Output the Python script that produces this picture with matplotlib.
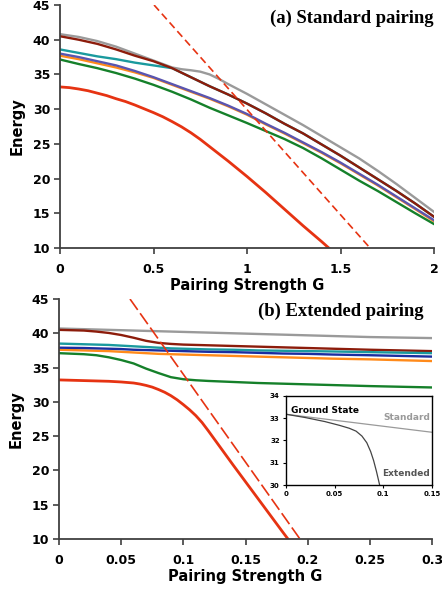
import numpy as np
import matplotlib.pyplot as plt

# data
g_top = [0, 0.1, 0.2, 0.3, 0.4, 0.5, 0.6, 0.7, 0.8, 0.9, 1.0,
         1.1, 1.2, 1.3, 1.4, 1.5, 1.6, 1.7, 1.8, 1.9, 2.0]
brown_top = [40.5, 40.0, 39.4, 38.6, 37.7, 36.9, 35.9, 34.6, 33.3, 32.1, 30.8,
             29.4, 27.9, 26.5, 24.9, 23.3, 21.6, 19.9, 18.2, 16.4, 14.5]
teal_top = [38.6, 38.1, 37.6, 37.2, 36.7, 36.3, 35.9, 34.6, 33.3, 32.1, 30.8,
            29.4, 27.9, 26.5, 24.9, 23.3, 21.6, 19.9, 18.2, 16.4, 14.5]
blue_top = [38.0, 37.5, 36.9, 36.3, 35.5, 34.6, 33.6, 32.6, 31.6, 30.5, 29.3,
            27.9, 26.6, 25.2, 23.8, 22.3, 20.7, 19.1, 17.4, 15.7, 14.0]
orange_top = [37.7, 37.2, 36.6, 36.0, 35.3, 34.5, 33.5, 32.5, 31.5, 30.4, 29.2,
              27.8, 26.5, 25.1, 23.7, 22.2, 20.6, 19.0, 17.3, 15.6, 13.85]
green_top = [37.15, 36.5, 35.9, 35.2, 34.4, 33.5, 32.5, 31.4, 30.2, 29.1, 28.0,
             26.85, 25.7, 24.4, 22.9, 21.3, 19.7, 18.2, 16.6, 15.0, 13.45]
g_gray_top = [0, 0.1, 0.2, 0.3, 0.4, 0.5, 0.55, 0.6, 0.65, 0.7, 0.75, 0.8, 0.85,
              0.9, 0.95, 1.0, 1.1, 1.2, 1.3, 1.4, 1.5, 1.6, 1.7, 1.8, 1.9, 2.0]
gray_top = [40.8, 40.4, 39.8, 39.0, 38.0, 37.0, 36.5, 36.0, 35.75, 35.6, 35.4, 35.0, 34.35,
            33.6, 32.9, 32.2, 30.7, 29.2, 27.7, 26.1, 24.5, 22.9, 21.1, 19.2, 17.2, 15.2]
g_red_top = [0, 0.05, 0.1, 0.15, 0.2, 0.25, 0.3, 0.35, 0.4, 0.45, 0.5, 0.55, 0.6,
             0.65, 0.7, 0.75, 0.8, 0.85, 0.9, 0.95, 1.0, 1.1, 1.2, 1.3, 1.4, 1.5]
red_top = [33.2, 33.1, 32.9, 32.65, 32.3, 31.95, 31.5, 31.1, 30.6, 30.05, 29.5, 28.9, 28.2,
           27.45, 26.6, 25.65, 24.6, 23.55, 22.5, 21.4, 20.3, 18.0, 15.6, 13.2, 10.9, 8.5]
g_dash_top = [0.503, 1.658]
dash_top = [45.0, 10.0]

g_bot = [0, 0.02, 0.03, 0.04, 0.05, 0.06, 0.07, 0.08, 0.09, 0.10, 0.11,
         0.12, 0.14, 0.16, 0.18, 0.20, 0.22, 0.25, 0.30]
gray_bot = [40.7, 40.6, 40.55, 40.5, 40.45, 40.4, 40.35, 40.3, 40.25, 40.2, 40.15,
            40.1, 40.0, 39.9, 39.8, 39.7, 39.6, 39.45, 39.3]
brown_bot = [40.5, 40.4, 40.25, 40.05, 39.75, 39.35, 38.9, 38.6, 38.45, 38.35, 38.3,
             38.25, 38.15, 38.05, 37.95, 37.85, 37.75, 37.6, 37.4]
teal_bot = [38.5, 38.4, 38.35, 38.3, 38.2, 38.1, 38.0, 37.9, 37.8, 37.75, 37.7,
            37.65, 37.6, 37.5, 37.45, 37.4, 37.35, 37.25, 37.1]
blue_bot = [37.9, 37.85, 37.8, 37.75, 37.7, 37.6, 37.55, 37.5, 37.45, 37.4, 37.35,
            37.3, 37.25, 37.15, 37.05, 37.0, 36.9, 36.8, 36.6]
orange_bot = [37.6, 37.5, 37.45, 37.4, 37.3, 37.2, 37.1, 37.0, 36.95, 36.9, 36.85,
              36.8, 36.7, 36.6, 36.5, 36.4, 36.3, 36.2, 35.95]
green_bot = [37.1, 36.95, 36.8, 36.5, 36.1, 35.6, 34.85, 34.2, 33.6, 33.3, 33.15,
             33.05, 32.9, 32.75, 32.65, 32.55, 32.45, 32.3, 32.1]
g_red_bot = [0, 0.02, 0.03, 0.04, 0.05, 0.06, 0.065, 0.07, 0.075, 0.08, 0.085, 0.09,
             0.095, 0.10, 0.105, 0.11, 0.115, 0.12, 0.13, 0.14, 0.16, 0.18, 0.20]
red_bot = [33.2, 33.1, 33.05, 33.0, 32.9, 32.75, 32.6, 32.4, 32.15, 31.8, 31.4, 30.9,
           30.3, 29.6, 28.85, 28.0, 27.0, 25.8, 23.3, 20.8, 15.9, 11.0, 6.2]
g_dash_bot = [0.0571, 0.1938]
dash_bot = [45.0, 10.0]

# inset: ground state, standard vs extended
g_std = [0, 0.15]
e_std = [33.18, 32.37]
g_ext = [0, 0.02, 0.04, 0.055, 0.065, 0.072, 0.078, 0.083, 0.087, 0.09, 0.093, 0.0962]
e_ext = [33.18, 33.03, 32.85, 32.68, 32.55, 32.42, 32.2, 31.9, 31.5, 31.1, 30.6, 30.0]

RED = '#E63312'
GRAY = '#9A9A9A'
BROWN = '#8C1C0B'
TEAL = '#1A9A9E'
ORANGE = '#FF8A1A'
GREEN = '#15802A'
SPINE = '#404040'

plt.rcParams['font.family'] = 'DejaVu Sans'
plt.rcParams['font.weight'] = 'bold'

fig = plt.figure(figsize=(4.42, 5.93), dpi=100)
W, H = 442.0, 593.0


def style(ax, xt, xl):
    for s in ['top', 'right']:
        ax.spines[s].set_visible(False)
    for s in ['left', 'bottom']:
        ax.spines[s].set_color(SPINE)
        ax.spines[s].set_linewidth(1.3)
    ax.set_xticks(xt)
    ax.set_xticklabels(xl, fontsize=9, fontweight='bold')
    ax.set_yticks([10, 15, 20, 25, 30, 35, 40, 45])
    ax.set_yticklabels(['10', '15', '20', '25', '30', '35', '40', '45'],
                       fontsize=9, fontweight='bold')
    ax.tick_params(axis='x', direction='out', length=4, width=1.2, color=SPINE, pad=7)
    ax.tick_params(axis='y', direction='out', length=4, width=1.2, color=SPINE, pad=3)
    ax.set_ylim(10, 45)
    ax.set_ylabel('Energy', fontsize=10.5, fontweight='bold', labelpad=6)
    ax.set_xlabel('Pairing Strength G', fontsize=10.5, fontweight='bold', labelpad=1)


# (a) standard pairing
ax1 = fig.add_axes([60 / W, 1 - 248 / H, 374 / W, 243 / H])
ax1.plot(g_top, teal_top, color=TEAL, lw=1.7)
ax1.plot(g_gray_top, gray_top, color=GRAY, lw=1.7)
ax1.plot(g_top, brown_top, color=BROWN, lw=1.7)
ax1.plot(g_top, orange_top, color=ORANGE, lw=1.7)
ax1.plot(g_top, blue_top, color='#5A55B0', lw=1.7)
ax1.plot(g_top, green_top, color=GREEN, lw=1.7)
ax1.plot(g_red_top, red_top, color=RED, lw=2.0)
ax1.plot(g_dash_top, dash_top, color=RED, lw=1.2, dashes=(4.5, 2.5))
ax1.set_xlim(0, 2)
style(ax1, [0, 0.5, 1, 1.5, 2], ['0', '0.5', '1', '1.5', '2'])
fig.text(434 / W, 1 - 22.7 / H, '(a) Standard pairing', ha='right', va='baseline',
         family='Liberation Serif', fontweight='bold', fontsize=13.4)

# (b) extended pairing
ax2 = fig.add_axes([59 / W, 1 - 539 / H, 373 / W, 240 / H])
ax2.plot(g_bot, gray_bot, color=GRAY, lw=1.7)
ax2.plot(g_bot, brown_bot, color=BROWN, lw=1.7)
ax2.plot(g_bot, teal_bot, color=TEAL, lw=1.7)
ax2.plot(g_bot, orange_bot, color=ORANGE, lw=1.7)
ax2.plot(g_bot, blue_bot, color='#1A2DA0', lw=1.7)
ax2.plot(g_bot, green_bot, color=GREEN, lw=1.7)
ax2.plot(g_red_bot, red_bot, color=RED, lw=2.0)
ax2.plot(g_dash_bot, dash_bot, color=RED, lw=1.2, dashes=(8, 2.5))
ax2.set_xlim(0, 0.3)
style(ax2, [0, 0.05, 0.1, 0.15, 0.2, 0.25, 0.3],
      ['0', '0.05', '0.1', '0.15', '0.2', '0.25', '0.3'])
fig.text(423 / W, 1 - 315.7 / H, '(b) Extended pairing', ha='right', va='baseline',
         family='Liberation Serif', fontweight='bold', fontsize=13.4)

# inset
ax3 = fig.add_axes([286 / W, 1 - 485 / H, 146 / W, 89 / H])
ax3.plot(g_std, e_std, color=GRAY, lw=0.9)
ax3.plot(g_ext, e_ext, color='#444444', lw=0.9)
ax3.set_xlim(0, 0.15)
ax3.set_ylim(30, 34)
ax3.set_xticks([0, 0.05, 0.1, 0.15])
ax3.set_xticklabels(['0', '0.05', '0.1', '0.15'], fontsize=5, fontweight='bold')
ax3.set_yticks([30, 31, 32, 33, 34])
ax3.set_yticklabels(['30', '31', '32', '33', '34'], fontsize=5, fontweight='bold')
ax3.tick_params(direction='out', length=2.5, width=0.8, pad=2)
for s in ax3.spines.values():
    s.set_linewidth(1.0)
ax3.text(0.005, 33.35, 'Ground State', fontsize=6.5, fontweight='bold', color='black',
         ha='left', va='center')
ax3.text(0.148, 33.05, 'Standard', fontsize=6.5, fontweight='bold', color=GRAY,
         ha='right', va='center')
ax3.text(0.148, 30.5, 'Extended', fontsize=6.5, fontweight='bold', color='#555555',
         ha='right', va='center')

fig.savefig('out.png', dpi=100)
